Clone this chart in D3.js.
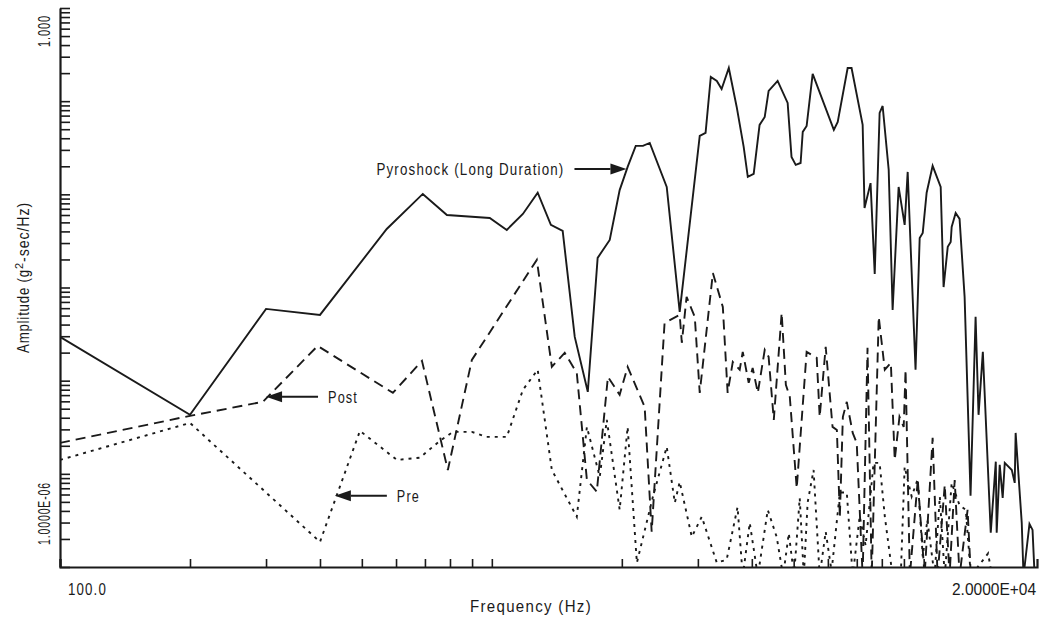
<!DOCTYPE html>
<html>
<head>
<meta charset="utf-8">
<script src="https://cdn.jsdelivr.net/npm/d3@7/dist/d3.min.js"></script>
<style>
  body { margin: 0; background: #fff; }
  text { font-family: "Liberation Sans", Arial, sans-serif; fill: #1a1a1a; }
</style>
</head>
<body>
<div id="chart"></div>
<script>
// Pyroshock (Long Duration) - solid line
const pyroFreq = [100, 200, 300, 400, 571, 692, 787, 989, 1083, 1180, 1277, 1370, 1459, 1556, 1668, 1758, 1875, 1977,
    2063, 2154, 2238, 2321, 2541, 2723, 3030, 3126, 3214, 3319, 3405, 3538, 3690, 3830, 3915, 4040, 4169, 4285, 4375,
    4590, 4842, 4943, 5055, 5188, 5248, 5358, 5533, 6194, 6324, 6668, 6808, 7223, 7296, 7534, 7703, 7907, 8035, 8299,
    8474, 8750, 9036, 9183, 9576, 9790, 9950, 10160, 10490, 10950, 11120, 11370, 11550, 11610, 11860, 12110, 12440,
    12840, 13190, 13400, 13710, 14300, 14690, 14760, 15000, 15240, 15410, 16000, 16250, 16330, 16870, 17030, 17580,
    17870, 18070];
const pyroAmp = [2.95e-4, 4.3e-5, 5.89e-4, 5.08e-4, 4.25e-3, 1.01e-2, 6.0e-3, 5.58e-3, 4.15e-3, 6.16e-3, 1.04e-2,
    4.7e-3, 4.05e-3, 2.95e-4, 7.59e-5, 2.08e-3, 3.24e-3, 1.11e-2, 1.97e-2, 3.31e-2, 3.31e-2, 3.56e-2, 1.2e-2, 5.47e-4,
    4.23e-2, 4.56e-2, 0.182, 0.165, 0.135, 0.227, 0.0867, 0.0323, 0.0154, 0.0166, 0.0556, 0.0677, 0.129, 0.165, 0.0957,
    0.0252, 0.0207, 0.0217, 0.0468, 0.0542, 0.196, 0.0491, 0.0598, 0.227, 0.227, 0.0556, 7.15e-3, 0.0132, 1.4e-3,
    0.0747, 0.0888, 0.0183, 5.75e-4, 0.012, 4.7e-3, 0.0174, 1.31e-4, 3.4e-3, 3.85e-3, 0.0104, 0.0202, 0.012, 1.01e-3,
    2.73e-3, 3.08e-3, 4.47e-3, 6.31e-3, 5.45e-3, 7.93e-4, 5.81e-6, 4.84e-4, 4.3e-5, 2.04e-4, 2.33e-6, 1.35e-5, 2.33e-6,
    1.25e-5, 5.52e-6, 1.31e-5, 1.1e-5, 8.0e-6, 2.75e-5, 2.98e-6, 8e-7, 2.9e-6, 2.5e-6, 8e-7];

// Post - dashed line
const postFreq = [100, 200, 295, 395, 590, 689, 791, 899, 1271, 1377, 1475, 1573, 1660, 1750, 1857, 1977, 2063, 2259,
    2345, 2512, 2723, 2754, 2825, 2951, 3030, 3250, 3427, 3516, 3614, 3750, 3811, 3934, 4018, 4130, 4285, 4375, 4497,
    4690, 4796, 4898, 5082, 5358, 5654, 5744, 5931, 6152, 6295, 6396, 6500, 6637, 6850, 6998, 7223, 7413, 7580, 7870,
    8128, 8395, 8570, 8790, 8990, 9080, 9290, 9690, 10050, 10490, 10770, 11190, 11480, 11800, 12110, 12640, 12860];
const postAmp = [2.15e-5, 4.19e-5, 5.93e-5, 2.36e-4, 7.4e-5, 1.63e-4, 1.1e-5, 1.67e-4, 1.98e-3, 1.41e-4, 1.99e-4,
    1.21e-4, 8.63e-6, 6.41e-6, 1.1e-4, 7.05e-5, 1.41e-4, 5.24e-5, 2.39e-6, 4.17e-4, 5.08e-4, 2.55e-4, 7.93e-4, 4.84e-4,
    7.4e-5, 1.43e-3, 6.19e-4, 7.4e-5, 1.59e-4, 1.31e-4, 2.04e-4, 9.47e-5, 1.37e-4, 7.4e-5, 2.14e-4, 1.8e-4, 3.8e-5,
    5.34e-4, 9.02e-5, 6.7e-5, 7e-6, 2.04e-4, 1.76e-4, 4.09e-5, 2.31e-4, 3.19e-5, 2.96e-5, 3.46e-6, 4.09e-5, 5.93e-5,
    2.75e-5, 2.15e-5, 8e-7, 2.25e-4, 8e-7, 4.84e-4, 1.31e-4, 1.55e-4, 1.41e-5, 4.09e-5, 3.19e-5, 1.31e-4, 8e-7, 8.6e-6,
    8e-7, 2.43e-5, 8e-7, 7.6e-6, 8e-7, 8.6e-6, 8e-7, 4.1e-6, 8e-7];

// Pre - dotted line
const preFreq = [100, 200, 400, 495, 603, 681, 758, 813, 899, 973, 1083, 1180, 1277, 1377, 1573, 1660, 1778, 1846,
    1977, 2063, 2167, 2360, 2541, 2653, 2723, 2904, 3063, 3319, 3498, 3707, 3811, 3956, 4130, 4355, 4567, 4727, 4872,
    5010, 5164, 5278, 5386, 5560, 5744, 5931, 6120, 6396, 6637, 6850, 7110, 7338, 7656, 7907, 8128, 8474, 8850, 9036,
    9380, 9690, 9950, 10200, 10600, 10900, 11190, 11610, 12110, 12520, 12860, 14100, 14400];
const preAmp = [1.41e-5, 3.52e-5, 1.86e-6, 2.89e-5, 1.41e-5, 1.49e-5, 2.26e-5, 2.82e-5, 2.82e-5, 2.49e-5, 2.49e-5,
    7.96e-5, 1.31e-4, 1.1e-5, 3.46e-6, 3.19e-5, 9.29e-6, 3.8e-5, 4.11e-6, 3.19e-5, 1.11e-6, 5.66e-6, 1.95e-5, 4.89e-6,
    8.2e-6, 2.11e-6, 3.46e-6, 1.11e-6, 1.2e-6, 4.4e-6, 8e-7, 2.98e-6, 8e-7, 4.1e-6, 2.1e-6, 8e-7, 2.3e-6, 8e-7, 5.5e-6,
    8e-7, 4.9e-6, 1.1e-5, 8e-7, 2.4e-6, 9e-7, 6.3e-6, 6.3e-6, 8e-7, 3.5e-6, 1.7e-6, 1.31e-5, 1.31e-5, 3.5e-6, 8e-7,
    8e-7, 1.19e-5, 5.7e-6, 8.8e-6, 1.3e-6, 3.2e-6, 8e-7, 5.7e-6, 8e-7, 8e-6, 4.6e-6, 4.1e-6, 8e-7, 1.4e-6, 8e-7];

const xDomain = [100, 18300];
const yDomain = [1e-6, 1];
const xTickLabels = ["100.0", "2.0000E+04"];
const yTickLabels = ["1.0000E-06", "1.000"];

// annotations: label, frequency and amplitude where the arrow tip sits
const notes = [
    { label: "Pyroshock (Long Duration)", freq: 2050, amp: 1.87e-2, side: "left", width: 188 },
    { label: "Post", freq: 300, amp: 6.7e-5, side: "right", width: 30 },
    { label: "Pre", freq: 433, amp: 5.8e-6, side: "right", width: 23 },
];

const W = 1051, H = 622;
const plot = { left: 60, right: 1037, top: 8, bottom: 567 };
const ink = "#1a1a1a";
const fontSize = 16;

const svg = d3.select("#chart").append("svg")
    .attr("width", W)
    .attr("height", H)
    .attr("viewBox", `0 0 ${W} ${H}`);

const x = d3.scaleLog().domain(xDomain).range([plot.left, plot.right]);
const y = d3.scaleLog().domain(yDomain).range([plot.bottom, plot.top]);

svg.append("clipPath").attr("id", "clip")
    .append("rect")
    .attr("x", plot.left).attr("y", plot.top)
    .attr("width", plot.right - plot.left).attr("height", plot.bottom - plot.top);

// axes with inward ticks
const yAxis = svg.append("g")
    .attr("transform", `translate(${plot.left},0)`)
    .call(d3.axisRight(y).ticks(60).tickSize(10).tickSizeOuter(0).tickFormat(""));

const xAxis = svg.append("g")
    .attr("transform", `translate(0,${plot.bottom})`)
    .call(d3.axisTop(x).ticks(30).tickSize(8).tickSizeOuter(8).tickFormat(""));

[yAxis, xAxis].forEach(g => {
    g.select(".domain").attr("stroke", ink).attr("stroke-width", 2.2);
    g.selectAll(".tick line").attr("stroke", ink).attr("stroke-width", 1.6);
});

// series
const line = d3.line().x(d => x(d[0])).y(d => y(d[1]));
const series = [
    { f: pyroFreq, a: pyroAmp, dash: null },
    { f: postFreq, a: postAmp, dash: "10,6" },
    { f: preFreq, a: preAmp, dash: "3,5" },
];

const lines = svg.append("g").attr("clip-path", "url(#clip)");
series.forEach(s => {
    lines.append("path")
        .datum(d3.zip(s.f, s.a))
        .attr("d", line)
        .attr("fill", "none")
        .attr("stroke", ink)
        .attr("stroke-width", 1.9)
        .attr("stroke-dasharray", s.dash);
});

// narrow, letter-spaced text: squeeze every label to the width it has in the picture
function label(sel, str, width, spacing = 1.4) {
    return sel.append("text")
        .style("font-size", fontSize + "px")
        .attr("letter-spacing", spacing + "px")
        .attr("textLength", width)
        .attr("lengthAdjust", "spacingAndGlyphs")
        .text(str);
}

// tick labels
label(svg, xTickLabels[0], 39).attr("x", 68).attr("y", 595);
label(svg, xTickLabels[1], 84, 0).attr("x", 952).attr("y", 595);

label(svg, yTickLabels[0], 63)
    .attr("transform", `translate(50,${y(yDomain[0]) - 22}) rotate(-90)`);
label(svg, yTickLabels[1], 32)
    .attr("transform", `translate(50,${y(yDomain[1]) + 39}) rotate(-90)`);

// axis titles
label(svg, "Frequency (Hz)", 122).attr("x", 470).attr("y", 612);

const yTitle = svg.append("text")
    .attr("transform", `translate(29,353) rotate(-90)`)
    .style("font-size", fontSize + "px")
    .attr("letter-spacing", "1px");
yTitle.append("tspan").attr("textLength", 84).attr("lengthAdjust", "spacingAndGlyphs").text("Amplitude (g");
yTitle.append("tspan").attr("dy", -6).style("font-size", "11px").text("2");
yTitle.append("tspan").attr("dy", 6).attr("textLength", 60).attr("lengthAdjust", "spacingAndGlyphs").text("-sec/Hz)");

// arrows pointing at the curves
const arrowLen = 52, headLen = 16, headHalf = 5.5;
notes.forEach(n => {
    const tx = x(n.freq), ty = y(n.amp);
    const dir = n.side === "left" ? -1 : 1;   // side of the tip where the label sits
    const tail = tx + dir * arrowLen;
    svg.append("line")
        .attr("x1", tail).attr("y1", ty)
        .attr("x2", tx + dir * headLen).attr("y2", ty)
        .attr("stroke", ink).attr("stroke-width", 2);
    svg.append("path")
        .attr("d", `M${tx},${ty} L${tx + dir * headLen},${ty - headHalf} L${tx + dir * headLen},${ty + headHalf} Z`)
        .attr("fill", ink);
    const start = n.side === "left" ? tail - 10 - n.width : tail + 10;
    label(svg, n.label, n.width).attr("x", start).attr("y", ty + 6);
});
</script>
</body>
</html>
